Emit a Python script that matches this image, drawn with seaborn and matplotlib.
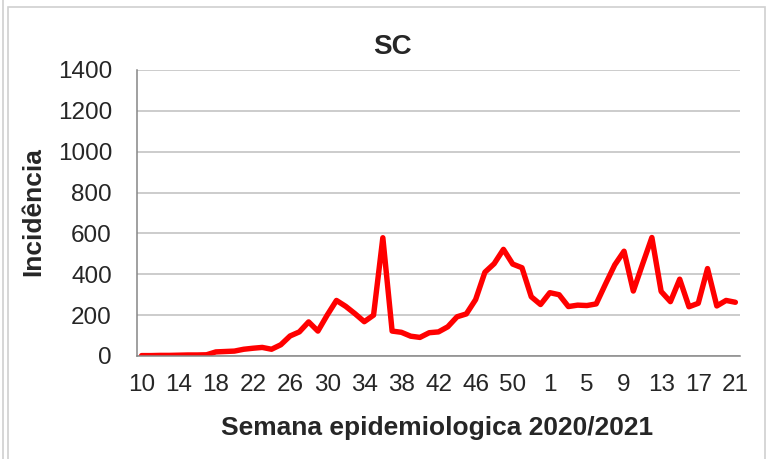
import matplotlib
matplotlib.use("Agg")
import matplotlib.pyplot as plt
import seaborn as sns
import pandas as pd
from matplotlib.patches import Rectangle
from matplotlib.lines import Line2D

# ---- data ----
weeks_2020 = list(range(10, 54))
weeks_2021 = list(range(1, 22))
week_labels = [str(w) for w in weeks_2020 + weeks_2021]
incidencia = [
    2, 2, 3, 3, 4, 5, 5, 6,            # 10-17
    20, 22, 24, 33, 38, 42, 33, 55,    # 18-25
    98, 118, 167, 122, 200, 272, 243, 207,  # 26-33
    168, 200, 579, 122, 116, 97, 91, 114,   # 34-41
    118, 143, 192, 206, 276, 410, 452, 522, # 42-49
    450, 432, 290, 252,                     # 50-53
    310, 300, 242, 249, 247, 255, 352, 446, # 1-8
    513, 318, 450, 580, 316, 266, 376, 241, # 9-16
    258, 428, 245, 272, 263,                # 17-21
]
title = "SC"
xlabel = "Semana epidemiologica 2020/2021"
ylabel = "Incidência"
yticks = [0, 200, 400, 600, 800, 1000, 1200, 1400]

df = pd.DataFrame({"idx": range(len(incidencia)), "val": incidencia, "week": week_labels})

sns.set_style("white")
plt.rcParams["font.family"] = ["Liberation Sans", "DejaVu Sans"]

W, H = 767, 459
fig = plt.figure(figsize=(W / 100, H / 100), dpi=100)
L, R, T, B = 137, 740, 70, 356
ax = fig.add_axes([L / W, 1 - B / H, (R - L) / W, (B - T) / H])

sns.lineplot(data=df, x="idx", y="val", ax=ax, color="#FF0000", linewidth=3.9,
             solid_joinstyle="round", solid_capstyle="round")

n = len(incidencia)
ax.set_xlim(-0.5, n - 0.5)
ax.set_ylim(0, 1400)
ax.set_yticks(yticks)
ax.set_yticklabels([str(v) for v in yticks], fontsize=17.5)
ax.yaxis.grid(True, color="#BEBEBE", linewidth=1.1)
ax.set_axisbelow(True)

lab_pos = list(range(0, n, 4))
ax.set_xticks(lab_pos)
ax.set_xticklabels([week_labels[i] for i in lab_pos], fontsize=17.5)
ax.set_xticks([i - 0.5 for i in range(n + 1)], minor=True)
ax.tick_params(axis="x", which="major", length=0, pad=13)
ax.tick_params(axis="x", which="minor", length=5, width=1, color="#868686", direction="out")
ax.tick_params(axis="y", which="major", length=6, width=1, color="#868686", direction="out", pad=12)

for s in ["top", "right"]:
    ax.spines[s].set_visible(False)
for s in ["left", "bottom"]:
    ax.spines[s].set_color("#868686")
    ax.spines[s].set_linewidth(1.1)

ax.set_xlabel("")
ax.set_ylabel("")

fig.text(392 / W, 1 - 47 / H, title, ha="center", va="center", fontsize=20, fontweight="bold")
fig.text(437 / W, 1 - 428 / H, xlabel, ha="center", va="center", fontsize=19, fontweight="bold")
fig.text(33 / W, 1 - 212 / H, ylabel, ha="center", va="center", rotation=90, fontsize=19, fontweight="bold")

# chart frame
fig.add_artist(Rectangle((8 / W, -0.05), (765 - 8) / W, 1.05 - 7 / H, transform=fig.transFigure,
                         fill=False, edgecolor="#D0D0D0", linewidth=1.2))
fig.add_artist(Line2D([3 / W, 3 / W], [0, 1], transform=fig.transFigure, color="#D0D0D0", linewidth=1.2))

fig.savefig("out.png", dpi=100)
